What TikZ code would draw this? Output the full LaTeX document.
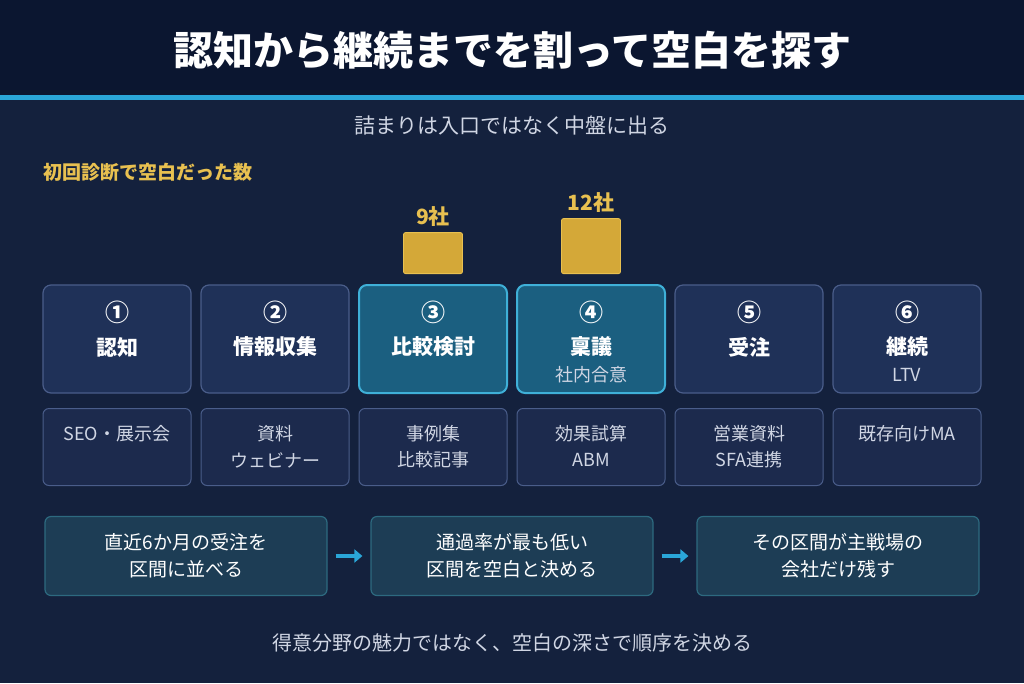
\documentclass[tikz,border=0pt]{standalone}
\usepackage{fontspec}
\setmainfont{Noto Sans CJK JP}
\usetikzlibrary{positioning,arrows.meta}
\definecolor{navytop}{HTML}{0B1630}
\definecolor{navybody}{HTML}{14213D}
\definecolor{cyanline}{HTML}{2AA6D8}
\definecolor{stagefill}{HTML}{1F3158}
\definecolor{stageline}{HTML}{4A5D8A}
\definecolor{hotfill}{HTML}{1B5F80}
\definecolor{hotline}{HTML}{3FB0D8}
\definecolor{toolfill}{HTML}{1C2A4D}
\definecolor{stepfill}{HTML}{1D3D55}
\definecolor{stepline}{HTML}{2D6A80}
\definecolor{gold}{HTML}{D4A838}
\definecolor{goldtext}{HTML}{E8C050}
\definecolor{softtext}{HTML}{D0D6E4}
\tikzset{
  stage/.style={draw=stageline, fill=stagefill, rounded corners=8pt, line width=1.2pt, minimum width=148pt, minimum height=108pt},
  hot/.style={stage, draw=hotline, fill=hotfill, line width=2pt},
  tool/.style={draw=stageline, fill=toolfill, rounded corners=6pt, line width=1pt, minimum width=148pt, minimum height=77pt},
  procbox/.style={draw=stepline, fill=stepfill, rounded corners=6pt, line width=1.2pt, minimum width=282pt, minimum height=79pt,
    text=white, font=\fontsize{19}{27}\selectfont, align=center},
  gapbar/.style={fill=gold, draw=goldtext, rounded corners=2pt, line width=0.8pt, minimum width=59pt, anchor=south},
  flow/.style={cyanline, line width=4pt, -{Triangle[length=8pt,width=13pt]}}
}
\begin{document}
\begin{tikzpicture}[x=1pt,y=-1pt]
\useasboundingbox (0,0) rectangle (1024,683);
% background
\fill[navybody] (0,0) rectangle (1024,683);
\fill[navytop] (0,0) rectangle (1024,95);
\fill[cyanline] (0,95) rectangle (1024,100);
% titles
\node[text=white, font=\fontsize{40}{46}\selectfont\bfseries] (title) at (512,50) {認知から継続までを割って空白を探す};
\node[text=softtext, font=\fontsize{21}{25}\selectfont] (sub) at (512,125) {詰まりは入口ではなく中盤に出る};
\node[text=goldtext, font=\fontsize{19}{22}\selectfont\bfseries, anchor=west] (legend) at (40,172) {初回診断で空白だった数};
% gap bars
\node[gapbar, minimum height=41pt] (bar3) at (433,274) {};
\node[gapbar, minimum height=55pt] (bar4) at (591,274) {};
\node[text=goldtext, font=\fontsize{21}{24}\selectfont\bfseries, above=2pt of bar3] (n3) {9社};
\node[text=goldtext, font=\fontsize{21}{24}\selectfont\bfseries, above=2pt of bar4] (n4) {12社};
% stages
\foreach \x/\st/\num/\name/\extra [count=\i] in {
  117/stage/①/認知/{},
  275/stage/②/情報収集/{},
  433/hot/③/比較検討/{},
  591/hot/④/稟議/社内合意,
  749/stage/⑤/受注/{},
  907/stage/⑥/継続/LTV}{
  \node[\st] (s\i) at (\x,339) {};
  \node[text=white, font=\fontsize{24}{28}\selectfont\bfseries] at (\x,312) {\num};
  \node[text=white, font=\fontsize{21}{25}\selectfont\bfseries] at (\x,347) {\name};
  \node[text=softtext, font=\fontsize{18}{22}\selectfont] at (\x,375) {\extra};
}
% tools
\foreach \x/\a/\b [count=\i] in {
  117/SEO・展示会/{},
  275/資料/ウェビナー,
  433/事例集/比較記事,
  591/効果試算/ABM,
  749/営業資料/SFA連携,
  907/既存向けMA/{}}{
  \node[tool] (t\i) at (\x,447) {};
  \node[text=softtext, font=\fontsize{18}{22}\selectfont] at (\x,434) {\a};
  \node[text=softtext, font=\fontsize{18}{22}\selectfont] at (\x,460) {\b};
}
% steps
\node[procbox] (p1) at (186,556) {直近6か月の受注を\\区間に並べる};
\node[procbox] (p2) at (512,556) {通過率が最も低い\\区間を空白と決める};
\node[procbox] (p3) at (838,556) {その区間が主戦場の\\会社だけ残す};
\draw[flow] ([xshift=8pt]p1.east) -- ([xshift=-8pt]p2.west);
\draw[flow] ([xshift=8pt]p2.east) -- ([xshift=-8pt]p3.west);
% footer
\node[text=softtext, font=\fontsize{20}{24}\selectfont] (foot) at (512,643) {得意分野の魅力ではなく、空白の深さで順序を決める};
\end{tikzpicture}
\end{document}
